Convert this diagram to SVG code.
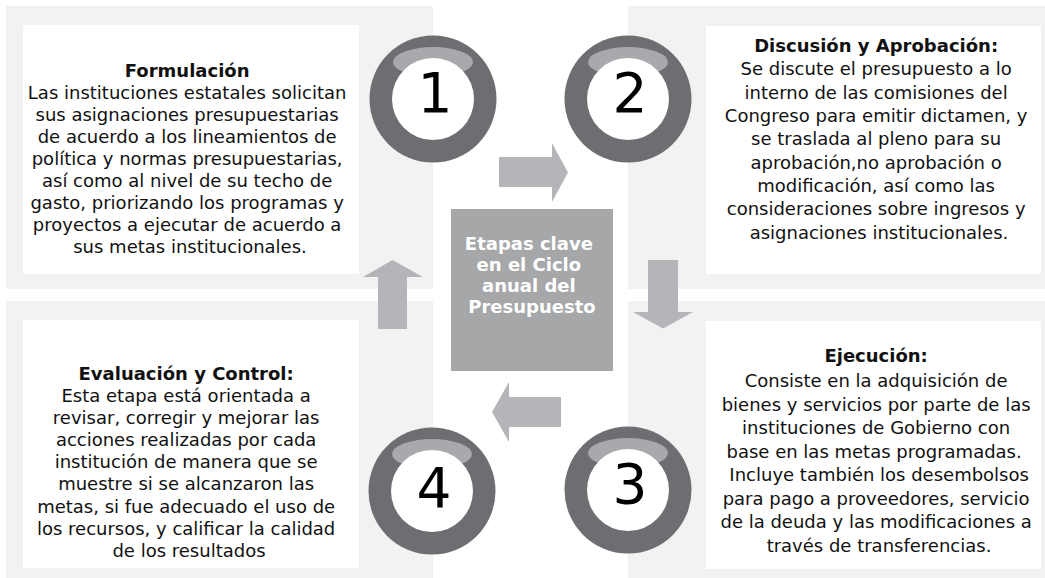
<svg xmlns="http://www.w3.org/2000/svg" width="1045" height="578" viewBox="0 0 1045 578">
  <style>
    .panel { fill: #f2f2f2; }
    .card { fill: #ffffff; }
    .ring { fill: #6d6e71; }
    .shine { fill: #a7a9ac; }
    .face { fill: #ffffff; }
    .num { font-family: "DejaVu Sans", Verdana, sans-serif; font-size: 55px; fill: #000; text-anchor: middle; }
    .body { font-family: "DejaVu Sans", Verdana, sans-serif; font-size: 18px; fill: #111; text-anchor: middle; }
    .title { font-weight: bold; }
    .hub { fill: #a6a7a9; }
    .hubtext { font-family: "DejaVu Sans", Verdana, sans-serif; font-size: 18px; font-weight: bold; fill: #ffffff; text-anchor: middle; }
    .arrow { fill: #b4b5b8; }
  </style>
  <defs>
    <g id="badge">
      <circle class="ring" cx="0" cy="0" r="63.5"/>
      <ellipse class="shine" cx="0" cy="-37" rx="40" ry="15"/>
      <circle class="face" cx="0" cy="0" r="41"/>
    </g>
  </defs>

  <rect width="1045" height="578" fill="#ffffff"/>

  <!-- background panels -->
  <g id="panels">
    <rect class="panel" x="6" y="6" width="427" height="283"/>
    <rect class="panel" x="628" y="6" width="417" height="283"/>
    <rect class="panel" x="6" y="301" width="427" height="277"/>
    <rect class="panel" x="628" y="301" width="417" height="277"/>
  </g>

  <!-- stage 1 -->
  <g id="stage-1">
    <rect class="card" x="23" y="25" width="336" height="249"/>
    <text class="body">
      <tspan class="title" x="190" y="77">Formulación</tspan>
      <tspan x="190" y="99">Las instituciones estatales solicitan</tspan>
      <tspan x="190" y="121">sus asignaciones presupuestarias</tspan>
      <tspan x="190" y="143">de acuerdo a los lineamientos de</tspan>
      <tspan x="190" y="165">política y normas presupuestarias,</tspan>
      <tspan x="190" y="187">así como al nivel de su techo de</tspan>
      <tspan x="190" y="209">gasto, priorizando los programas y</tspan>
      <tspan x="190" y="231">proyectos a ejecutar de acuerdo a</tspan>
      <tspan x="190" y="253">sus metas institucionales.</tspan>
    </text>
  </g>

  <!-- stage 2 -->
  <g id="stage-2">
    <rect class="card" x="706" y="26" width="335" height="248"/>
    <text class="body">
      <tspan class="title" x="879" y="52">Discusión y Aprobación:</tspan>
      <tspan x="879" y="75.3">Se discute el presupuesto a lo</tspan>
      <tspan x="879" y="98.7">interno de las comisiones del</tspan>
      <tspan x="879" y="122">Congreso para emitir dictamen, y</tspan>
      <tspan x="879" y="145.3">se traslada al pleno para su</tspan>
      <tspan x="879" y="168.7">aprobación,no aprobación o</tspan>
      <tspan x="879" y="192">modificación, así como las</tspan>
      <tspan x="879" y="215.3">consideraciones sobre ingresos y</tspan>
      <tspan x="879" y="238.7">asignaciones institucionales.</tspan>
    </text>
  </g>

  <!-- stage 3 -->
  <g id="stage-3">
    <rect class="card" x="706" y="321" width="335" height="248"/>
    <text class="body">
      <tspan class="title" x="879" y="362">Ejecución:</tspan>
      <tspan x="879" y="387">Consiste en la adquisición de</tspan>
      <tspan x="879" y="410.5">bienes y servicios por parte de las</tspan>
      <tspan x="879" y="434">instituciones de Gobierno con</tspan>
      <tspan x="877" y="457.5">base en las metas programadas.</tspan>
      <tspan x="882" y="481">Incluye también los desembolsos</tspan>
      <tspan x="879" y="504.5">para pago a proveedores, servicio</tspan>
      <tspan x="879" y="528">de la deuda y las modificaciones a</tspan>
      <tspan x="879" y="551.5">través de transferencias.</tspan>
    </text>
  </g>

  <!-- stage 4 -->
  <g id="stage-4">
    <rect class="card" x="23" y="320" width="336" height="248"/>
    <text class="body">
      <tspan class="title" x="189" y="380">Evaluación y Control:</tspan>
      <tspan x="189" y="402">Esta etapa está orientada a</tspan>
      <tspan x="189" y="424">revisar, corregir y mejorar las</tspan>
      <tspan x="189" y="446">acciones realizadas por cada</tspan>
      <tspan x="189" y="468">institución de manera que se</tspan>
      <tspan x="189" y="490">muestre si se alcanzaron las</tspan>
      <tspan x="189" y="513">metas, si fue adecuado el uso de</tspan>
      <tspan x="189" y="535">los recursos, y calificar la calidad</tspan>
      <tspan x="189" y="557">de los resultados</tspan>
    </text>
  </g>

  <!-- central hub -->
  <g id="hub">
    <rect class="hub" x="451" y="209" width="162" height="162"/>
    <text class="hubtext">
      <tspan x="532" y="250">Etapas clave</tspan>
      <tspan x="532" y="271">en el Ciclo</tspan>
      <tspan x="532" y="292">anual del</tspan>
      <tspan x="532" y="313">Presupuesto</tspan>
    </text>
  </g>

  <!-- cycle arrows -->
  <g id="connectors">
    <path class="arrow" d="M499,157 H552 V143 L568,172.5 L552,202 V187 H499 Z"/>
    <path class="arrow" d="M648,260 H678 V312 H693 L663,328.5 L633,312 H648 Z"/>
    <path class="arrow" d="M561,397 V427 H509 V442 L492,412 L509,382 V397 Z"/>
    <path class="arrow" d="M378,329 V277 H363 L392.5,260 L423,277 H407 V329 Z"/>
  </g>

  <!-- numbered badges -->
  <g id="badge-1">
    <use href="#badge" x="433" y="99"/>
    <text class="num" x="435" y="112">1</text>
  </g>
  <g id="badge-2">
    <use href="#badge" x="628" y="99"/>
    <text class="num" x="630" y="112">2</text>
  </g>
  <g id="badge-3">
    <use href="#badge" x="628" y="490"/>
    <text class="num" x="630" y="503">3</text>
  </g>
  <g id="badge-4">
    <use href="#badge" x="432" y="491"/>
    <text class="num" x="434" y="507">4</text>
  </g>
</svg>
